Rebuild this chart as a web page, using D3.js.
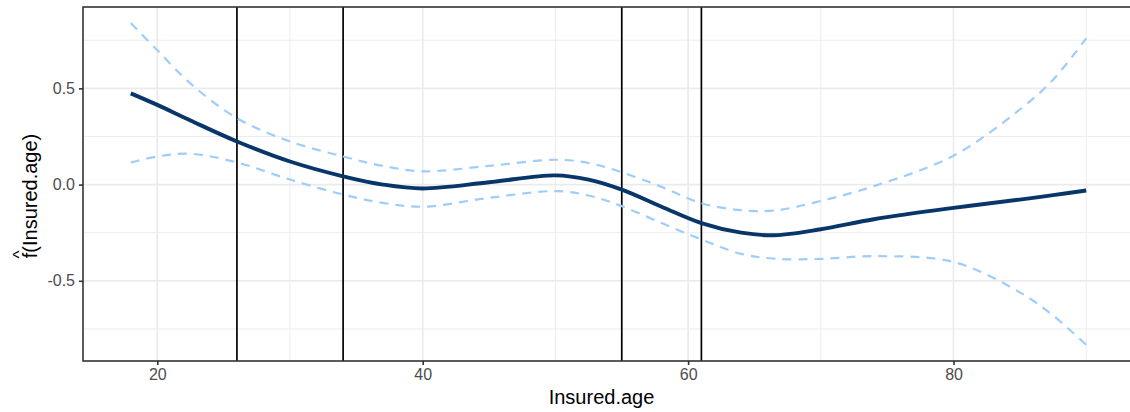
<!DOCTYPE html>
<html>
<head>
<meta charset="utf-8">
<script src="https://cdn.jsdelivr.net/npm/d3@7"></script>
<style>
  body { margin: 0; background: #fff; }
  svg { display: block; font-family: "Liberation Sans", Arial, sans-serif; }
</style>
</head>
<body>
<div id="chart"></div>
<script>
// smooth term estimate for Insured.age
var ages  = [18, 20, 22.5, 26, 30, 34, 37, 40, 45, 50, 52.5, 55, 58, 61, 64, 66.5, 70, 74, 80, 85, 87.5, 90];
var fit   = [0.474, 0.414, 0.333, 0.224, 0.12, 0.043, 0.0, -0.02, 0.012, 0.048, 0.026, -0.026, -0.115, -0.2, -0.25, -0.263, -0.232, -0.18, -0.121, -0.078, -0.055, -0.031];
var upper = [0.839, 0.698, 0.525, 0.345, 0.224, 0.146, 0.097, 0.069, 0.097, 0.129, 0.112, 0.064, -0.012, -0.097, -0.133, -0.135, -0.085, -0.008, 0.15, 0.39, 0.545, 0.76];
var lower = [0.115, 0.146, 0.16, 0.115, 0.026, -0.052, -0.095, -0.115, -0.069, -0.034, -0.057, -0.112, -0.2, -0.285, -0.36, -0.385, -0.386, -0.372, -0.402, -0.56, -0.68, -0.833];
var knots = [26, 34, 55, 61];
var xTicks = [20, 40, 60, 80];
var xMinor = [30, 50, 70, 90];
var yTicks = [-0.5, 0, 0.5];
var yMinor = [-0.75, -0.25, 0.25, 0.75];

var W = 1130, H = 412;
var pLeft = 83, pTop = 7, pBottom = 361, pRight = 1134;

var svg = d3.select("#chart").append("svg")
    .attr("width", W)
    .attr("height", H);

// ggplot style 5% expansion
var xr = d3.extent(ages), xpad = (xr[1] - xr[0]) * 0.05;
var yr = [d3.min(lower), d3.max(upper)], ypad = (yr[1] - yr[0]) * 0.05;

var x = d3.scaleLinear().domain([xr[0] - xpad, xr[1] + xpad]).range([pLeft, pRight]);
var y = d3.scaleLinear().domain([yr[0] - ypad, yr[1] + ypad]).range([pBottom, pTop]);

var grid = svg.append("g");
grid.selectAll(".xminor").data(xMinor).enter().append("line")
    .attr("x1", d => x(d)).attr("x2", d => x(d))
    .attr("y1", pTop).attr("y2", pBottom)
    .attr("stroke", "#ebebeb").attr("stroke-width", 0.9);
grid.selectAll(".yminor").data(yMinor).enter().append("line")
    .attr("y1", d => y(d)).attr("y2", d => y(d))
    .attr("x1", pLeft).attr("x2", pRight)
    .attr("stroke", "#ebebeb").attr("stroke-width", 0.9);
grid.selectAll(".xmajor").data(xTicks).enter().append("line")
    .attr("x1", d => x(d)).attr("x2", d => x(d))
    .attr("y1", pTop).attr("y2", pBottom)
    .attr("stroke", "#ebebeb").attr("stroke-width", 1.7);
grid.selectAll(".ymajor").data(yTicks).enter().append("line")
    .attr("y1", d => y(d)).attr("y2", d => y(d))
    .attr("x1", pLeft).attr("x2", pRight)
    .attr("stroke", "#ebebeb").attr("stroke-width", 1.7);

// knot lines
svg.selectAll(".knot").data(knots).enter().append("line")
    .attr("x1", d => x(d)).attr("x2", d => x(d))
    .attr("y1", pTop).attr("y2", pBottom)
    .attr("stroke", "#000").attr("stroke-width", 1.7);

var line = function (vals) {
    return d3.line()
        .x((d, i) => x(ages[i]))
        .y(d => y(d))
        .curve(d3.curveCatmullRom.alpha(0.5))(vals);
};

svg.append("path").attr("d", line(upper))
    .attr("fill", "none").attr("stroke", "#9fcdfb")
    .attr("stroke-width", 2.2).attr("stroke-dasharray", "9,7");
svg.append("path").attr("d", line(lower))
    .attr("fill", "none").attr("stroke", "#9fcdfb")
    .attr("stroke-width", 2.2).attr("stroke-dasharray", "9,7");
svg.append("path").attr("d", line(fit))
    .attr("fill", "none").attr("stroke", "#08366b")
    .attr("stroke-width", 3.9).attr("stroke-linecap", "butt");

// panel border (right side falls outside the window)
svg.append("rect")
    .attr("x", pLeft).attr("y", pTop)
    .attr("width", pRight - pLeft).attr("height", pBottom - pTop)
    .attr("fill", "none").attr("stroke", "#333").attr("stroke-width", 1.6);

// axes
var fmtY = function (d) { return d3.format(".1f")(d).replace("\u2212", "-"); };
var xAxis = svg.append("g")
    .attr("transform", "translate(0," + pBottom + ")")
    .call(d3.axisBottom(x).tickValues(xTicks).tickSize(4).tickPadding(4).tickFormat(d3.format("d")));
var yAxis = svg.append("g")
    .attr("transform", "translate(" + pLeft + ",0)")
    .call(d3.axisLeft(y).tickValues(yTicks).tickSize(4).tickPadding(4).tickFormat(fmtY));

[xAxis, yAxis].forEach(function (g) {
    g.select(".domain").remove();
    g.selectAll(".tick line").attr("stroke", "#333").attr("stroke-width", 1.6);
    g.selectAll(".tick text").attr("fill", "#4d4d4d")
        .style("font-size", "16px")
        .style("font-family", "'Liberation Sans', Arial, sans-serif");
});

// titles
svg.append("text")
    .attr("x", (pLeft + pRight) / 2 - 7).attr("y", 404)
    .attr("text-anchor", "middle")
    .style("font-size", "20px")
    .text("Insured.age");

var ylab = svg.append("g")
    .attr("transform", "translate(37,196) rotate(-90)");
var ytxt = ylab.append("text")
    .attr("text-anchor", "middle")
    .style("font-size", "20px")
    .text("f(Insured.age)");
var tw = ytxt.node().getComputedTextLength();
var fw = ytxt.node().getSubStringLength(0, 1);
ylab.append("text")
    .attr("x", -tw / 2 + fw / 2 + 1)
    .attr("y", -12)
    .attr("text-anchor", "middle")
    .style("font-size", "17px")
    .text("^");
</script>
</body>
</html>
